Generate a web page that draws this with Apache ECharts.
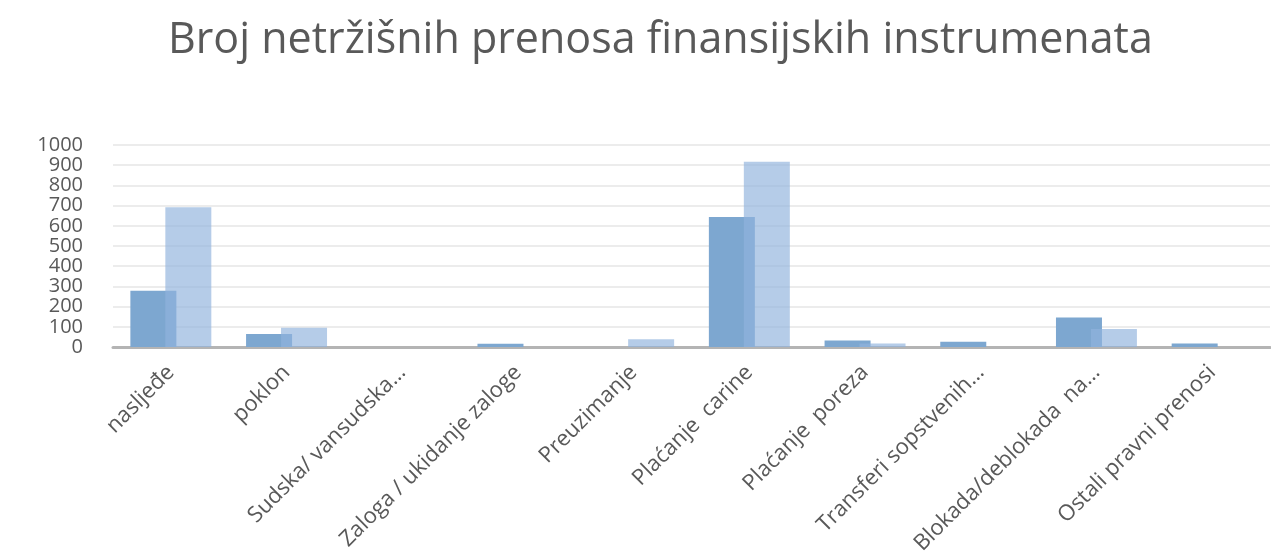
<!DOCTYPE html>
<html>
<head>
<meta charset="utf-8">
<script src="https://cdn.jsdelivr.net/npm/echarts@6/dist/echarts.min.js"></script>
<style>
  html, body { margin: 0; padding: 0; background: #fff; }
  #chart { width: 1271px; height: 554px; }
</style>
</head>
<body>
<div id="chart"></div>
<script>
const title = 'Broj netržišnih prenosa finansijskih instrumenata'

const categories = [
  'nasljeđe',
  'poklon',
  'Sudska/ vansudska…',
  'Zaloga / ukidanje zaloge',
  'Preuzimanje',
  'Plaćanje  carine',
  'Plaćanje  poreza',
  'Transferi sopstvenih…',
  'Blokada/deblokada  na…',
  'Ostali pravni prenosi'
]

// two unnamed series (no legend in the picture)
const seriesA = [279, 64, 0, 16, 0, 643, 32, 26, 146, 17]
const seriesB = [692, 95, 0, 0, 38, 917, 17, 0, 89, 0]

const yTicks = { min: 0, max: 1000, interval: 100 }

const chart = echarts.init(document.getElementById('chart'))

chart.setOption({
  backgroundColor: '#ffffff',
  animation: false,
  title: {
    text: title,
    left: 163,
    top: 14,
    textStyle: {
      fontFamily: 'Open Sans',
      fontWeight: 'normal',
      fontSize: 43,
      color: '#595959'
    }
  },
  grid: {
    left: 113,
    right: 1,
    top: 145,
    bottom: 207,
    outerBoundsMode: 'none'
  },
  xAxis: {
    type: 'category',
    data: categories,
    axisTick: { show: false },
    axisLine: {
      lineStyle: { color: '#b4b4b4', width: 3 }
    },
    axisLabel: {
      rotate: 45,
      interval: 0,
      margin: 22,
      fontFamily: 'Open Sans',
      fontSize: 22,
      color: '#595959'
    }
  },
  yAxis: {
    type: 'value',
    min: yTicks.min,
    max: yTicks.max,
    interval: yTicks.interval,
    axisLine: { show: false },
    axisTick: { show: false },
    axisLabel: {
      margin: 30,
      fontFamily: 'Open Sans',
      fontSize: 20,
      color: '#595959',
      formatter: (v) => String(v)
    },
    splitLine: {
      lineStyle: { color: '#ececec', width: 2 }
    }
  },
  series: [
    {
      type: 'bar',
      data: seriesA,
      barWidth: 46,
      barGap: '-24%',
      itemStyle: {
        color: '#7da7d0'
      }
    },
    {
      type: 'bar',
      data: seriesB,
      barWidth: 46,
      itemStyle: {
        color: 'rgba(145,179,221,0.67)'
      }
    }
  ]
})
</script>
</body>
</html>
